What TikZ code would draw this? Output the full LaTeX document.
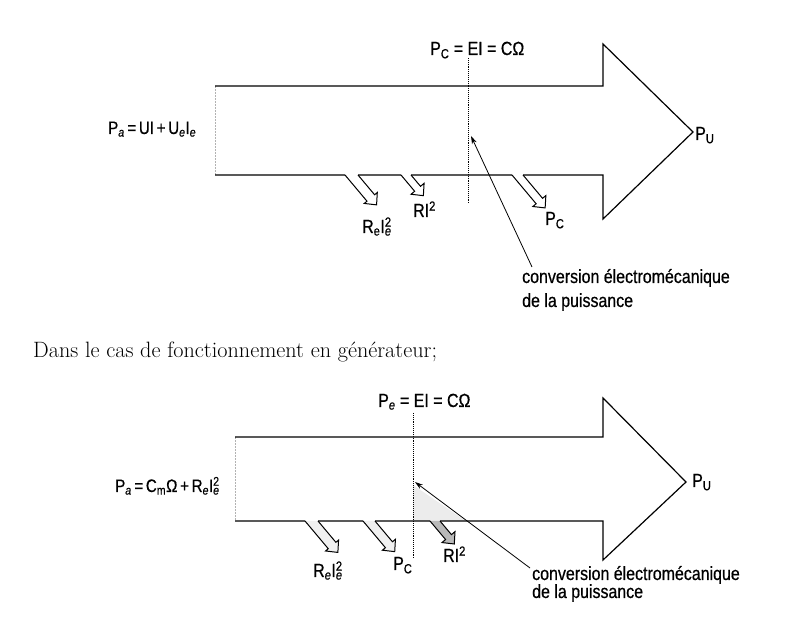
\documentclass[tikz,border=0pt]{standalone}
\usepackage{fontspec}
\newfontfamily\figfont{Liberation Sans}[FakeStretch=0.84,FakeBold=0.6]
\usetikzlibrary{arrows.meta}
\newcommand\sbs[1]{\textsubscript{#1}}
\newcommand\spsb[2]{\rlap{\textsuperscript{#1}}\textsubscript{#2}}
\newcommand\tsp{\hspace{0.15em}}
% loss arrow: #1 x centre of gap, #2 y of edge, #3 gap width, #4 length, #5 fill
\newcommand\lossarrow[5]{%
  \begin{scope}[shift={(#1,#2)}, rotate=-50]
    \filldraw[loss, fill=#5] ({-0.321*#3},{-0.383*#3}) -- ({#4-9},{-0.383*#3})
      -- ({#4-9},-8.5) -- (#4,0) -- ({#4-9},8.5) -- ({#4-9},{0.383*#3})
      -- ({0.321*#3},{0.383*#3});
  \end{scope}}
\begin{document}
\begin{tikzpicture}[x=1pt,y=1pt,
  outline/.style={line width=1.2pt, line join=miter},
  loss/.style={line width=1pt, line join=miter},
  lab/.style={inner sep=0pt, anchor=base west, font=\figfont\fontsize{19}{22}\selectfont},
  eqlab/.style={lab, font=\figfont\fontsize{18}{22}\selectfont},
  ptr/.style={line width=0.8pt, -{Stealth[length=8pt,width=5pt]}},
  cut/.style={densely dotted, line width=0.9pt},
  leftedge/.style={gray!60, densely dotted, line width=0.5pt}]
\useasboundingbox (0,0) rectangle (786,631);

% ---------------- top diagram ----------------
\draw[leftedge] (215,545) -- (215,456);
\draw[outline] (215,545) -- (603,545) -- (603,587) -- (693,499) -- (603,412) -- (603,456) -- (523,456)
  (512,456) -- (411,456) (401,456) -- (358,456) (345,456) -- (215,456);
\lossarrow{351.5}{456}{13}{39}{white}
\lossarrow{406}{456}{10}{27}{white}
\lossarrow{517.5}{456}{11}{43}{white}

\coordinate (c1a) at (468,573);
\coordinate (c1b) at (468,427);
\draw[cut] (c1a) -- (c1b);

\node[eqlab] (pa1) at (108,497) {P\sbs{\itshape a}\tsp=\tsp UI\tsp+\tsp U\sbs{\itshape e}I\sbs{\itshape e}};
\node[lab] (pc1) at (430,576) {P\sbs{C} = EI = CΩ};
\node[lab] (re1) at (362,398) {R\sbs{e}I\spsb{2}{\itshape e}};
\node[lab] (ri1) at (413,414) {RI\textsuperscript{2}};
\node[lab] (pcl1) at (545,406) {P\sbs{C}};
\node[lab] (pu1) at (695,491) {P\sbs{U}};
\node[lab] (cv1) at (522,348) {conversion électromécanique};
\node[lab] (cv1b) at (522,324) {de la puissance};
\coordinate (p1s) at (532,364);
\coordinate (p1e) at (471,495);
\draw[ptr] (p1s) -- (p1e);

% ---------------- sentence ----------------
\node[inner sep=0pt, anchor=base west, font=\fontsize{22.2}{26}\selectfont] (txt) at (33,273)
  {Dans le cas de fonctionnement en générateur;};

% ---------------- bottom diagram ----------------
\fill[gray!15] (413,146) -- (413,110) -- (466,110) -- cycle;
\draw[leftedge] (235,194) -- (235,110);
\draw[outline] (235,194) -- (603,194) -- (603,233) -- (686,149) -- (603,71) -- (603,110) -- (440,110)
  (430,110) -- (375,110) (363,110) -- (318,110) (305,110) -- (235,110);
\lossarrow{311.5}{110}{13}{41}{gray!12}
\lossarrow{369}{110}{12}{40}{gray!12}
\lossarrow{435}{110}{10}{30}{gray!55}

\coordinate (c2a) at (413,218);
\coordinate (c2b) at (413,73);
\draw[cut] (c2a) -- (c2b);

\node[eqlab] (pa2) at (115,139) {P\sbs{\itshape a}\tsp=\tsp C\sbs{m}Ω\tsp+\tsp R\sbs{\itshape e}I\spsb{2}{\itshape e}};
\node[lab] (pe2) at (378,224) {P\sbs{\itshape e} = EI = CΩ};
\node[lab] (re2) at (313,54) {R\sbs{\itshape e}I\spsb{2}{\itshape e}};
\node[lab] (pcl2) at (393,61) {P\sbs{C}};
\node[lab] (ri2) at (443,69) {RI\textsuperscript{2}};
\node[lab] (pu2) at (692,144) {P\sbs{U}};
\node[lab] (cv2) at (532,51) {conversion électromécanique};
\node[lab] (cv2b) at (532,33) {de la puissance};
\coordinate (p2s) at (530,63);
\coordinate (p2e) at (415,149);
\draw[ptr] (p2s) -- (p2e);
\end{tikzpicture}
\end{document}
